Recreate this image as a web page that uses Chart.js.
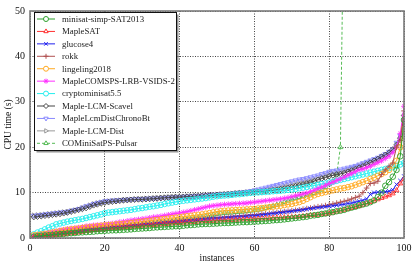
<!DOCTYPE html>
<html>
<head>
<meta charset="utf-8">
<script src="https://cdn.jsdelivr.net/npm/chart.js@4.4.0/dist/chart.umd.min.js"></script>
<style>
  html, body { margin: 0; padding: 0; background: #fff; }
  #chart { display: block; }
</style>
</head>
<body>
<canvas id="chart" width="416" height="267"></canvas>
<script>
var instances = [];
for (var i = 1; i <= 100; i++) instances.push(i);

var xTicks = [0, 20, 40, 60, 80, 100];
var yTicks = [0, 10, 20, 30, 40, 50];

var solverNames = ["minisat-simp-SAT2013", "MapleSAT", "glucose4", "rokk", "lingeling2018",
    "MapleCOMSPS-LRB-VSIDS-2", "cryptominisat5.5", "Maple-LCM-Scavel", "MapleLcmDistChronoBt",
    "Maple-LCM-Dist", "COMiniSatPS-Pulsar"];

var minisatSimp = [0.3,0.4,0.5,0.55,0.6,0.7,0.8,0.85,0.9,1.0,
    1.05,1.1,1.2,1.25,1.3,1.35,1.4,1.5,1.55,1.6,
    1.65,1.7,1.7,1.75,1.8,1.85,1.9,2.0,2.05,2.1,
    2.15,2.2,2.3,2.35,2.4,2.45,2.5,2.55,2.6,2.6,
    2.7,2.8,2.85,2.9,3.0,3.05,3.1,3.1,3.15,3.2,
    3.25,3.3,3.3,3.35,3.4,3.45,3.5,3.5,3.55,3.6,
    3.65,3.7,3.75,3.8,3.9,3.95,4.0,4.1,4.2,4.3,
    4.4,4.5,4.6,4.7,4.9,5.0,5.1,5.3,5.4,5.6,
    5.7,5.9,6.0,6.2,6.5,6.7,6.9,7.2,7.4,7.6,
    7.9,8.3,9.0,10.0,11.5,12.3,13.5,15.0,18.0,26.0];

var mapleSat = [0.1,0.15,0.2,0.3,0.4,0.5,0.6,0.7,0.8,0.9,
    1.0,1.1,1.2,1.35,1.5,1.6,1.7,1.75,1.85,1.9,
    2.0,2.1,2.15,2.2,2.3,2.35,2.45,2.5,2.6,2.7,
    2.75,2.8,2.85,2.9,3.0,3.05,3.1,3.2,3.25,3.3,
    3.35,3.4,3.45,3.5,3.6,3.65,3.7,3.7,3.75,3.8,
    3.85,3.9,3.9,3.95,4.0,4.05,4.1,4.1,4.15,4.2,
    4.25,4.3,4.3,4.35,4.4,4.45,4.5,4.5,4.55,4.6,
    4.65,4.7,4.8,4.9,5.0,5.05,5.1,5.2,5.3,5.4,
    5.6,5.8,6.0,6.2,6.4,6.6,6.8,7.0,7.3,7.6,
    7.9,8.2,8.5,8.8,9.1,9.4,9.8,10.5,12.0,13.0];

var glucose4 = [0.1,0.2,0.3,0.4,0.5,0.6,0.7,0.8,0.9,1.0,
    1.1,1.2,1.3,1.45,1.6,1.7,1.8,1.85,1.9,2.0,
    2.1,2.2,2.25,2.3,2.4,2.5,2.55,2.65,2.7,2.8,
    2.9,2.95,3.0,3.1,3.2,3.25,3.3,3.4,3.45,3.5,
    3.6,3.7,3.75,3.8,3.9,4.0,4.1,4.15,4.2,4.3,
    4.35,4.4,4.5,4.55,4.6,4.65,4.7,4.8,4.85,4.9,
    5.0,5.1,5.2,5.3,5.4,5.5,5.6,5.7,5.8,5.9,
    6.0,6.1,6.2,6.35,6.5,6.6,6.7,6.8,6.9,7.0,
    7.1,7.2,7.3,7.4,7.6,7.7,7.9,8.1,8.3,8.6,
    9.6,10.0,10.1,10.1,10.2,10.3,10.6,11.8,12.6,13.6];

var rokk = [0.2,0.3,0.4,0.55,0.7,0.8,0.95,1.05,1.2,1.3,
    1.4,1.5,1.6,1.7,1.8,1.9,1.95,2.05,2.1,2.2,
    2.3,2.35,2.45,2.5,2.6,2.7,2.75,2.85,2.9,3.0,
    3.1,3.15,3.2,3.3,3.4,3.5,3.55,3.6,3.7,3.8,
    3.9,3.95,4.0,4.1,4.2,4.25,4.3,4.4,4.45,4.5,
    4.55,4.6,4.7,4.75,4.8,4.85,4.9,5.0,5.05,5.1,
    5.2,5.3,5.35,5.4,5.5,5.6,5.7,5.8,5.9,6.0,
    6.1,6.2,6.35,6.5,6.6,6.75,6.9,7.0,7.15,7.3,
    7.5,7.7,7.9,8.1,8.3,8.6,8.9,9.2,10.0,11.0,
    12.0,12.1,12.5,14.0,15.0,15.8,16.5,20.0,21.5,28.0];

var lingeling = [0.6,0.7,0.8,0.9,1.0,1.2,1.35,1.5,1.65,1.8,
    1.9,2.0,2.1,2.2,2.3,2.4,2.5,2.6,2.7,2.8,
    2.85,2.9,3.0,3.05,3.1,3.2,3.3,3.4,3.5,3.6,
    3.7,3.8,3.9,4.0,4.1,4.2,4.3,4.4,4.5,4.6,
    4.7,4.8,4.9,5.0,5.1,5.2,5.35,5.5,5.65,5.8,
    5.9,6.0,6.05,6.1,6.15,6.2,6.25,6.3,6.35,6.4,
    6.5,6.6,6.7,6.8,6.9,7.0,7.1,7.25,7.4,7.5,
    7.7,7.9,8.2,8.6,9.0,9.4,9.7,9.9,10.1,10.3,
    10.5,10.7,10.9,11.0,11.2,11.4,11.7,12.0,12.3,12.6,
    13.0,13.3,13.7,14.1,14.5,15.0,16.0,17.0,20.0,24.0];

var mapleComsps = [0.5,0.65,0.8,1.0,1.2,1.35,1.5,1.7,1.85,2.0,
    2.1,2.2,2.3,2.45,2.6,2.7,2.8,2.85,2.9,3.0,
    3.1,3.2,3.35,3.5,3.6,3.75,3.9,4.0,4.1,4.2,
    4.3,4.45,4.6,4.7,4.8,4.95,5.1,5.25,5.4,5.5,
    5.65,5.8,6.0,6.2,6.4,6.6,6.8,7.0,7.1,7.2,
    7.3,7.4,7.45,7.5,7.55,7.6,7.65,7.7,7.8,7.9,
    8.0,8.1,8.2,8.3,8.4,8.5,8.6,8.75,8.9,9.1,
    9.3,9.5,9.7,9.9,10.2,10.5,10.9,11.2,11.6,12.0,
    12.3,12.7,13.0,13.4,13.8,14.2,14.6,15.0,15.2,15.5,
    15.8,16.2,16.6,17.0,17.5,18.0,18.8,20.0,23.0,29.0];

var cryptominisat = [0.8,1.2,1.5,1.9,2.3,2.6,3.0,3.2,3.4,3.6,
    3.75,3.9,4.05,4.2,4.4,4.6,4.8,5.0,5.2,5.5,
    5.6,5.7,5.8,5.9,6.0,6.1,6.2,6.35,6.5,6.6,
    6.75,6.9,7.0,7.15,7.3,7.5,7.65,7.8,7.95,8.1,
    8.2,8.3,8.4,8.5,8.6,8.7,8.8,8.95,9.1,9.2,
    9.3,9.35,9.4,9.5,9.6,9.65,9.75,9.85,9.95,10.0,
    10.05,10.1,10.15,10.2,10.3,10.35,10.4,10.5,10.6,10.7,
    10.8,10.95,11.1,11.25,11.4,11.55,11.7,11.9,12.0,12.2,
    12.4,12.6,12.8,13.0,13.2,13.4,13.6,13.8,14.0,14.2,
    14.4,14.6,14.8,15.0,15.2,15.4,15.6,15.9,16.2,16.5];

var lcmScavel = [4.6,4.7,4.8,4.9,5.0,5.1,5.2,5.3,5.45,5.6,
    5.8,6.0,6.2,6.4,6.6,6.9,7.2,7.4,7.6,7.8,
    7.9,8.0,8.1,8.2,8.3,8.35,8.4,8.45,8.5,8.5,
    8.55,8.6,8.65,8.7,8.8,8.85,8.9,8.95,9.0,9.0,
    9.05,9.1,9.1,9.15,9.2,9.25,9.3,9.35,9.4,9.5,
    9.55,9.6,9.65,9.7,9.8,9.85,9.9,9.95,10.0,10.1,
    10.15,10.2,10.3,10.4,10.5,10.6,10.75,10.9,11.0,11.2,
    11.4,11.6,11.8,12.0,12.2,12.5,12.8,13.1,13.3,13.6,
    13.8,14.0,14.1,14.3,14.6,14.9,15.2,15.5,15.8,16.2,
    16.6,17.0,17.4,17.9,18.3,18.8,19.5,20.5,22.0,27.0];

var lcmChronoBt = [4.9,5.0,5.1,5.2,5.3,5.4,5.5,5.6,5.7,5.8,
    6.0,6.2,6.4,6.7,7.0,7.2,7.5,7.7,7.9,8.1,
    8.2,8.25,8.3,8.35,8.4,8.45,8.5,8.55,8.6,8.6,
    8.65,8.7,8.7,8.75,8.8,8.85,8.9,8.95,9.0,9.0,
    9.1,9.15,9.2,9.25,9.3,9.35,9.4,9.5,9.55,9.6,
    9.65,9.7,9.75,9.8,9.9,10.0,10.1,10.2,10.35,10.5,
    10.7,10.9,11.1,11.3,11.5,11.7,11.9,12.1,12.3,12.5,
    12.7,12.9,13.0,13.2,13.4,13.6,13.8,14.1,14.3,14.6,
    14.8,14.9,15.1,15.3,15.5,15.7,15.9,16.2,16.5,16.8,
    17.1,17.4,17.7,18.1,18.5,19.0,19.6,21.0,22.5,26.0];

var lcmDist = [5.0,5.05,5.1,5.2,5.3,5.4,5.5,5.6,5.7,5.8,
    5.95,6.1,6.3,6.6,6.9,7.2,7.5,7.7,7.85,8.0,
    8.1,8.2,8.25,8.3,8.4,8.45,8.5,8.55,8.6,8.6,
    8.7,8.75,8.8,8.85,8.9,8.95,9.0,9.05,9.1,9.1,
    9.15,9.2,9.25,9.3,9.3,9.35,9.4,9.5,9.55,9.6,
    9.65,9.7,9.75,9.8,9.9,9.95,10.0,10.1,10.2,10.3,
    10.4,10.5,10.6,10.75,10.9,11.1,11.3,11.45,11.6,11.8,
    12.0,12.2,12.4,12.6,12.8,13.0,13.3,13.5,13.8,14.0,
    14.2,14.4,14.6,14.8,15.0,15.3,15.6,15.9,16.2,16.5,
    16.8,17.1,17.4,17.9,18.3,18.7,19.3,20.5,22.0,25.0];

// runs after instance 83 are off the top of the plot
var cominisatPulsar = [0.3,0.45,0.6,0.7,0.8,0.95,1.1,1.2,1.35,1.5,
    1.6,1.7,1.8,1.9,2.0,2.1,2.15,2.2,2.3,2.4,
    2.45,2.5,2.55,2.6,2.65,2.7,2.8,2.85,2.9,3.0,
    3.1,3.2,3.3,3.35,3.45,3.55,3.6,3.7,3.8,3.9,
    4.0,4.1,4.2,4.35,4.5,4.6,4.75,4.9,5.1,5.3,
    5.4,5.5,5.55,5.6,5.7,5.75,5.8,5.9,6.0,6.1,
    6.2,6.4,6.6,6.8,7.0,7.3,7.6,7.9,8.2,8.5,
    8.8,9.0,9.2,9.4,9.6,9.9,10.2,10.6,11.2,11.8,
    12.4,14.0,20.0,80,120,150,200,250,300,400,
    450,500,550,600,650,700,750,800,900,1000];

var seriesValues = [minisatSimp, mapleSat, glucose4, rokk, lingeling, mapleComsps,
    cryptominisat, lcmScavel, lcmChronoBt, lcmDist, cominisatPulsar];
var seriesColors = ['#2ca02c', '#ff3030', '#2020ee', '#b05050', '#ffaa22', '#ff30ff',
    '#22eeee', '#444444', '#8888ff', '#999999', '#55bb55'];
var seriesMarkers = ['circle', 'triangle', 'crossRot', 'cross', 'circle', 'star',
    'circle', 'rectRot', 'triangle', 'triangle', 'triangle'];
var seriesRotation = [0, 0, 0, 0, 0, 0, 0, 0, 180, 90, 0];

var serif = "'Liberation Serif', 'DejaVu Serif', serif";

var datasets = solverNames.map(function(name, i) {
    return {
        label: name,
        data: seriesValues[i],
        borderColor: seriesColors[i],
        backgroundColor: 'rgba(0,0,0,0)',
        borderWidth: 1,
        borderDash: i == 10 ? [3, 2] : [],
        pointStyle: seriesMarkers[i],
        pointRotation: seriesRotation[i],
        pointRadius: 2.8,
        pointBorderWidth: 0.9,
        pointBorderColor: seriesColors[i],
        pointBackgroundColor: 'rgba(0,0,0,0)',
        tension: 0
    };
});

var frame = {
    id: 'frame',
    afterDatasetsDraw: function(chart) {
        var a = chart.chartArea, ctx = chart.ctx;
        ctx.save();
        ctx.strokeStyle = '#7a7a7a';
        ctx.lineWidth = 1.6;
        ctx.strokeRect(a.left, a.top, a.right - a.left, a.bottom - a.top);
        ctx.restore();
    }
};

var legendBox = {
    id: 'legendBox',
    afterDraw: function(chart) {
        var ctx = chart.ctx;
        var x0 = 34.5, y0 = 12.5, w = 142, h = 138;
        ctx.save();
        ctx.fillStyle = 'rgba(60,60,60,0.55)';
        ctx.fillRect(x0 + 2, y0 + 2, w, h);
        ctx.fillStyle = '#fff';
        ctx.fillRect(x0, y0, w, h);
        ctx.strokeStyle = '#111';
        ctx.lineWidth = 1;
        ctx.strokeRect(x0, y0, w, h);
        ctx.font = "8.8px " + serif;
        ctx.textBaseline = 'middle';
        chart.data.datasets.forEach(function(ds, i) {
            var y = 19 + i * 12.43;
            ctx.strokeStyle = ds.borderColor;
            ctx.lineWidth = 1;
            ctx.setLineDash(ds.borderDash);
            ctx.beginPath();
            ctx.moveTo(37, y);
            ctx.lineTo(55, y);
            ctx.stroke();
            ctx.setLineDash([]);
            ctx.fillStyle = '#fff';
            Chart.helpers.drawPoint(ctx, {
                pointStyle: ds.pointStyle,
                radius: 2.5,
                rotation: ds.pointRotation,
                borderWidth: 0.9
            }, 46, y);
            ctx.fillStyle = '#222';
            ctx.fillText(ds.label, 62, y + 0.5);
        });
        ctx.restore();
    }
};

new Chart(document.getElementById('chart'), {
    type: 'line',
    data: { labels: instances, datasets: datasets },
    options: {
        responsive: false,
        animation: false,
        devicePixelRatio: 1,
        layout: { padding: { top: 8, right: 12, left: 0, bottom: 0 } },
        plugins: { legend: { display: false }, tooltip: { enabled: false } },
        scales: {
            x: {
                type: 'linear',
                min: 0, max: 100,
                afterFit: function(s) { s.height = 29; },
                afterBuildTicks: function(s) { s.ticks = xTicks.map(function(v) { return { value: v }; }); },
                grid: { color: '#444', lineWidth: 1, drawTicks: false },
                border: { display: false, dash: [1, 1.5] },
                ticks: { color: '#111', padding: 4, maxRotation: 0, font: { family: serif, size: 10 } },
                title: { display: true, text: 'instances', color: '#111', padding: { top: 2, bottom: 3 },
                    font: { family: serif, size: 9.5 } }
            },
            y: {
                min: 0, max: 50,
                afterFit: function(s) { s.width = 30; },
                afterBuildTicks: function(s) { s.ticks = yTicks.map(function(v) { return { value: v }; }); },
                grid: { color: '#444', lineWidth: 1, drawTicks: false },
                border: { display: false, dash: [1, 1.5] },
                ticks: { color: '#111', padding: 5, font: { family: serif, size: 10 } },
                title: { display: true, text: 'CPU time (s)', color: '#111', padding: { top: 3, bottom: 0 },
                    font: { family: serif, size: 9.5 } }
            }
        }
    },
    plugins: [frame, legendBox]
});
</script>
</body>
</html>
